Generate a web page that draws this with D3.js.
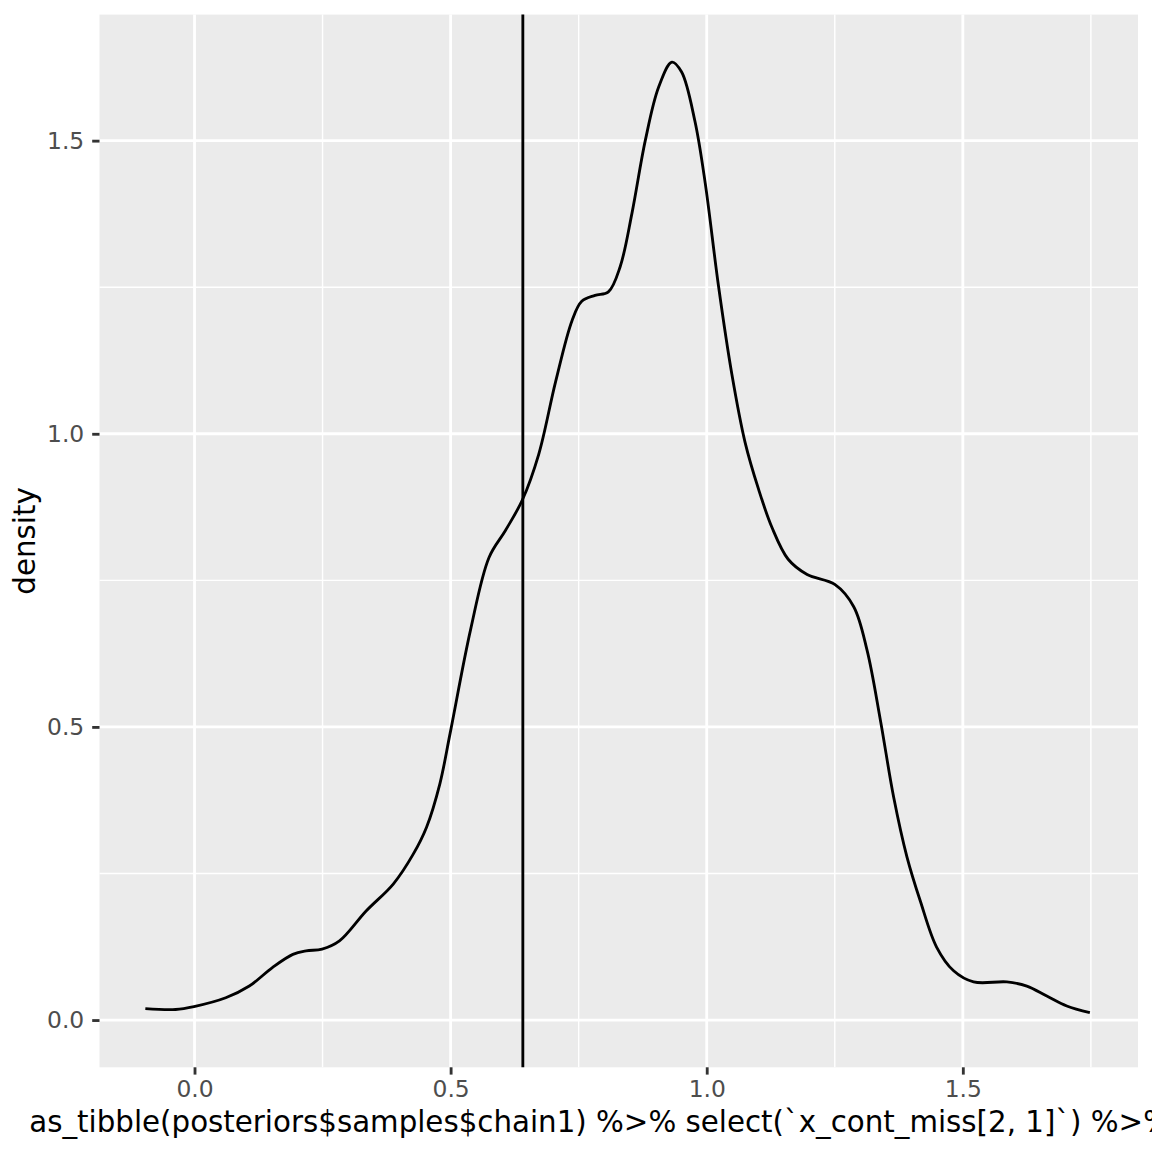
<!DOCTYPE html>
<html>
<head>
<meta charset="utf-8">
<script src="https://cdn.jsdelivr.net/npm/d3@7"></script>
<style>
  body { margin: 0; background: #fff; overflow: hidden; }
  svg { display: block; font-family: "DejaVu Sans", sans-serif; }
</style>
</head>
<body>
<svg id="chart"></svg>
<script>
// density curve
const densX = [-0.096, -0.037, -0.001, 0.061, 0.107, 0.152, 0.192, 0.218, 0.249, 0.283,
    0.335, 0.388, 0.427, 0.453, 0.479, 0.499, 0.539, 0.575, 0.607, 0.640, 0.672, 0.705,
    0.737, 0.756, 0.782, 0.808, 0.831, 0.854, 0.880, 0.906, 0.932, 0.951, 0.977, 0.997,
    1.023, 1.049, 1.075, 1.101, 1.127, 1.159, 1.196, 1.250, 1.287, 1.313, 1.339, 1.365,
    1.391, 1.417, 1.449, 1.482, 1.521, 1.586, 1.625, 1.664, 1.703, 1.748];
const densY = [0.0194, 0.018, 0.023, 0.038, 0.058, 0.0895, 0.112, 0.118, 0.121, 0.135,
    0.186, 0.232, 0.283, 0.329, 0.403, 0.489, 0.666, 0.789, 0.835, 0.887, 0.965, 1.089,
    1.193, 1.226, 1.236, 1.242, 1.285, 1.376, 1.500, 1.591, 1.634, 1.617, 1.533, 1.428,
    1.252, 1.102, 0.985, 0.906, 0.841, 0.786, 0.760, 0.743, 0.705, 0.631, 0.512, 0.380,
    0.278, 0.203, 0.124, 0.084, 0.065, 0.065, 0.058, 0.041, 0.024, 0.0125];
const vline = 0.641;

const xTicks = [0, 0.5, 1.0, 1.5];
const yTicks = [0, 0.5, 1.0, 1.5];
const xMinor = [0.25, 0.75, 1.25, 1.75];
const yMinor = [0.25, 0.75, 1.25];
const xTitle = "as_tibble(posteriors$samples$chain1) %>% select(`x_cont_miss[2, 1]`) %>% ...";
const yTitle = "density";

const width = 1152, height = 1152;
const panel = { left: 99.5, right: 1138, top: 14.6, bottom: 1067.3 };
const lw = 2.84;   // ggplot 0.5 linewidth at this size

const x = d3.scaleLinear()
    .domain([-0.1855, 1.842])
    .range([panel.left, panel.right]);
const y = d3.scaleLinear()
    .domain([-0.0806, 1.715])
    .range([panel.bottom, panel.top]);

const svg = d3.select("#chart")
    .attr("width", width)
    .attr("height", height);

// panel background
svg.append("rect")
    .attr("x", panel.left)
    .attr("y", panel.top)
    .attr("width", panel.right - panel.left)
    .attr("height", panel.bottom - panel.top)
    .attr("fill", "#EBEBEB");

const grid = svg.append("g");

// minor grid
grid.selectAll(".vminor").data(xMinor).enter().append("line")
    .attr("x1", d => x(d)).attr("x2", d => x(d))
    .attr("y1", panel.top).attr("y2", panel.bottom)
    .attr("stroke", "#fff").attr("stroke-width", lw / 2);
grid.selectAll(".hminor").data(yMinor).enter().append("line")
    .attr("y1", d => y(d)).attr("y2", d => y(d))
    .attr("x1", panel.left).attr("x2", panel.right)
    .attr("stroke", "#fff").attr("stroke-width", lw / 2);

// major grid
grid.selectAll(".vmajor").data(xTicks).enter().append("line")
    .attr("x1", d => x(d)).attr("x2", d => x(d))
    .attr("y1", panel.top).attr("y2", panel.bottom)
    .attr("stroke", "#fff").attr("stroke-width", lw);
grid.selectAll(".hmajor").data(yTicks).enter().append("line")
    .attr("y1", d => y(d)).attr("y2", d => y(d))
    .attr("x1", panel.left).attr("x2", panel.right)
    .attr("stroke", "#fff").attr("stroke-width", lw);

// density line
const pts = densX.map((d, i) => [d, densY[i]]);
const line = d3.line()
    .x(d => x(d[0]))
    .y(d => y(d[1]))
    .curve(d3.curveCatmullRom.alpha(0.5));

svg.append("path")
    .datum(pts)
    .attr("d", line)
    .attr("fill", "none")
    .attr("stroke", "#000")
    .attr("stroke-width", lw)
    .attr("stroke-linejoin", "round");

// vertical reference line
svg.append("line")
    .attr("x1", x(vline)).attr("x2", x(vline))
    .attr("y1", panel.top).attr("y2", panel.bottom)
    .attr("stroke", "#000")
    .attr("stroke-width", lw);

// axes
const xAxis = d3.axisBottom(x)
    .tickValues(xTicks)
    .tickFormat(d3.format(".1f"))
    .tickSize(7.3)
    .tickPadding(5.5);
const yAxis = d3.axisLeft(y)
    .tickValues(yTicks)
    .tickFormat(d3.format(".1f"))
    .tickSize(7.3)
    .tickPadding(8);

const gx = svg.append("g")
    .attr("transform", `translate(0,${panel.bottom})`)
    .call(xAxis);
const gy = svg.append("g")
    .attr("transform", `translate(${panel.left},0)`)
    .call(yAxis);

[gx, gy].forEach(g => {
    g.select(".domain").remove();
    g.selectAll(".tick line").attr("stroke", "#333333").attr("stroke-width", lw);
    g.selectAll(".tick text")
        .attr("fill", "#4D4D4D")
        .style("font-size", "23.4px")
        .style("font-family", "DejaVu Sans, sans-serif");
});

// titles
svg.append("text")
    .attr("x", (panel.left + panel.right) / 2)
    .attr("y", 1132)
    .attr("text-anchor", "middle")
    .style("font-size", "29.3px")
    .attr("fill", "#000")
    .text(xTitle);

svg.append("text")
    .attr("transform", `translate(35,${(panel.top + panel.bottom) / 2}) rotate(-90)`)
    .attr("text-anchor", "middle")
    .style("font-size", "29.3px")
    .attr("fill", "#000")
    .text(yTitle);
</script>
</body>
</html>
